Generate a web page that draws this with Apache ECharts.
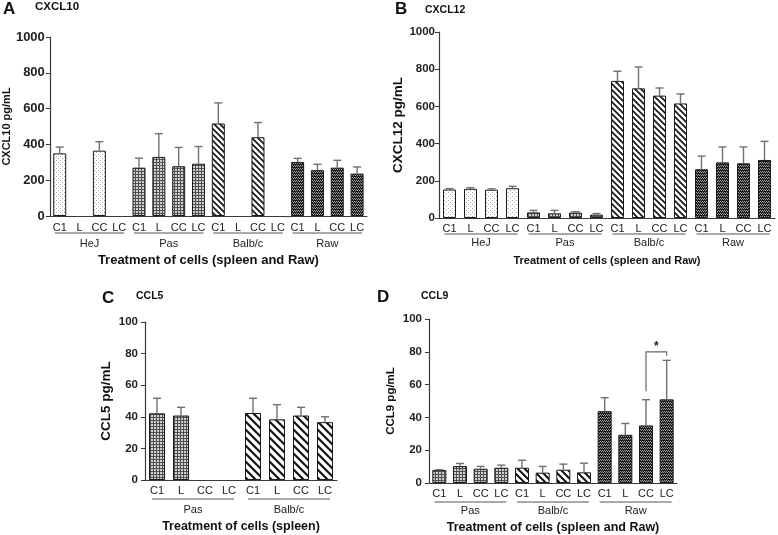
<!DOCTYPE html>
<html><head><meta charset="utf-8">
<script src="https://cdn.jsdelivr.net/npm/echarts@6/dist/echarts.min.js"></script>
<style>html,body{margin:0;padding:0;background:#fff}#c{width:778px;height:535px}</style>
</head><body><div id="c"></div>
<script>
// ---------------- data ----------------
const subLabels = ['C1', 'L', 'CC', 'LC'];

const groupsA = ['HeJ', 'Pas', 'Balb/c', 'Raw'];
const valuesA = [350, null, 365, null, 270, 330, 278, 292, 517, null, 440, null, 302, 256, 270, 237];
const upperA  = [385, null, 415, null, 323, 460, 383, 388, 632, null, 522, null, 322, 289, 311, 274];

const groupsB = ['HeJ', 'Pas', 'Balb/c', 'Raw'];
const valuesB = [153, 157, 152, 160, 30, 25, 29, 18, 737, 697, 658, 616, 262, 299, 294, 312];
const upperB  = [158, 163, 157, 170, 41, 41, 34, 24, 789, 812, 699, 667, 333, 382, 382, 412];

const groupsC = ['Pas', 'Balb/c'];
const valuesC = [42.2, 40.8, null, null, 42.4, 38.4, 40.8, 36.6];
const upperC  = [51.7, 46, null, null, 51.7, 47.7, 46, 40];

const groupsD = ['Pas', 'Balb/c', 'Raw'];
const valuesD = [7.9, 10.3, 8.7, 9.3, 9.3, 6.3, 8.1, 6.5, 43.8, 29.4, 35.1, 51];
const upperD  = [8.1, 11.9, 10.1, 10.9, 13.9, 10.1, 11.5, 12.1, 52, 36.3, 50.8, 74.8];
// significance bracket: [fromCategory, toCategory, bracketLevel, leftFoot, rightFoot]
const sigD = [[10, 11, 80, 56, 77.6]];
const sigLabelD = ['*'];

// ---------------- patterns ----------------
function mk(w, h, draw) {
  const c = document.createElement('canvas'); c.width = w; c.height = h;
  const ctx = c.getContext('2d'); draw(ctx); return c;
}
const patDots = mk(4, 4, ctx => {
  ctx.fillStyle = '#fff'; ctx.fillRect(0, 0, 4, 4);
  ctx.fillStyle = '#a8a8a8'; ctx.fillRect(0, 0, 1, 1); ctx.fillRect(2, 2, 1, 1);
});
const patChecker = mk(3, 3, ctx => {
  ctx.fillStyle = '#d0d0d0'; ctx.fillRect(0, 0, 3, 3);
  ctx.fillStyle = '#505050'; ctx.fillRect(0, 0, 3, 1); ctx.fillRect(0, 0, 1, 3);
});
const patBrick = mk(4, 3, ctx => {
  ctx.fillStyle = '#1e1e1e'; ctx.fillRect(0, 0, 4, 3);
  ctx.fillStyle = '#9a9a9a';
  ctx.fillRect(0, 0, 1, 1); ctx.fillRect(2, 0, 1, 1);
  ctx.fillRect(1, 1, 1, 1); ctx.fillRect(3, 1, 1, 1);
});
function stripes(s, lw) {
  return mk(s, s, ctx => {
    ctx.fillStyle = '#fff'; ctx.fillRect(0, 0, s, s);
    ctx.strokeStyle = '#111'; ctx.lineWidth = lw;
    ctx.beginPath();
    ctx.moveTo(-1, -1); ctx.lineTo(s + 1, s + 1);
    ctx.moveTo(-s - 1, -1); ctx.lineTo(1, s + 1);
    ctx.moveTo(s - 1, -1); ctx.lineTo(2 * s + 1, s + 1);
    ctx.stroke();
  });
}
function patternFor(group, stripeCanvas) {
  if (group === 'HeJ') return { image: patDots, repeat: 'repeat' };
  if (group === 'Pas') return { image: patChecker, repeat: 'repeat' };
  if (group === 'Balb/c') return { image: stripeCanvas, repeat: 'repeat' };
  return { image: patBrick, repeat: 'repeat' };
}

// ---------------- panels ----------------
const FONT = 'Liberation Sans, Arial, Helvetica, sans-serif';
const panels = [
  { groups: groupsA, values: valuesA, upper: upperA, max: 1000, interval: 200,
    grid: { left: 49, top: 37, width: 318, height: 179 }, barWidth: 13, cap: 4,
    stripe: stripes(6, 1.6), yName: 'CXCL10 pg/mL', yNameSize: 11, yNameGap: 37, yLabelSize: 13, yMargin: 5,
    xName: 'Treatment of cells (spleen and Raw)', xNameSize: 13, xNameGap: 38, catMargin: 6,
    lineOff: 17, textOff: 28 },
  { groups: groupsB, values: valuesB, upper: upperB, max: 1000, interval: 200,
    grid: { left: 439, top: 32, width: 336, height: 186 }, barWidth: 13, cap: 4,
    stripe: stripes(6, 1.6), yName: 'CXCL12 pg/mL', yNameSize: 13.5, yNameGap: 33, yLabelSize: 11.5, yMargin: 4,
    xName: 'Treatment of cells (spleen and Raw)', xNameSize: 11, xNameGap: 37, catMargin: 5,
    lineOff: 16, textOff: 25 },
  { groups: groupsC, values: valuesC, upper: upperC, max: 100, interval: 20,
    grid: { left: 145, top: 322, width: 192, height: 158 }, barWidth: 16, cap: 4,
    stripe: stripes(8, 2.2), yName: 'CCL5 pg/mL', yNameSize: 13.5, yNameGap: 32, yLabelSize: 11.5, yMargin: 7,
    xName: 'Treatment of cells (spleen)', xNameSize: 12.5, xNameGap: 40, catMargin: 5,
    lineOff: 19, textOff: 30 },
  { groups: groupsD, values: valuesD, upper: upperD, max: 100, interval: 20,
    grid: { left: 429, top: 319, width: 248, height: 165 }, barWidth: 14, cap: 4,
    stripe: stripes(7, 2), yName: 'CCL9 pg/mL', yNameSize: 11.5, yNameGap: 32, yLabelSize: 11.5, yMargin: 7,
    xName: 'Treatment of cells (spleen and Raw)', xNameSize: 12.5, xNameGap: 38, catMargin: 5,
    lineOff: 19, textOff: 28 }
];

const grids = [], xAxes = [], yAxes = [], series = [];
panels.forEach((p, k) => {
  grids.push(p.grid);
  const cats = p.groups.flatMap(() => subLabels);
  xAxes.push({
    type: 'category', gridIndex: k, data: cats,
    axisLine: { lineStyle: { color: '#3a3a3a', width: 1.2 } },
    axisTick: { alignWithLabel: true, length: 4, lineStyle: { color: '#3a3a3a' } },
    axisLabel: { interval: 0, fontSize: 11, color: '#222', fontFamily: FONT, margin: p.catMargin },
    name: p.xName, nameLocation: 'middle', nameGap: p.xNameGap,
    nameTextStyle: { fontSize: p.xNameSize, fontWeight: 'bold', color: '#111', fontFamily: FONT }
  });
  yAxes.push({
    type: 'value', gridIndex: k, min: 0, max: p.max, interval: p.interval,
    splitLine: { show: false },
    axisLine: { show: true, lineStyle: { color: '#3a3a3a', width: 1.2 } },
    axisTick: { show: true, length: 4, lineStyle: { color: '#3a3a3a' } },
    axisLabel: { fontSize: p.yLabelSize, fontWeight: 'bold', color: '#222', fontFamily: FONT,
      margin: p.yMargin, formatter: v => String(v) },
    name: p.yName, nameLocation: 'middle', nameRotate: 90, nameGap: p.yNameGap,
    nameTextStyle: { fontSize: p.yNameSize, fontWeight: 'bold', color: '#111', fontFamily: FONT }
  });
  series.push({
    type: 'bar', xAxisIndex: k, yAxisIndex: k, barWidth: p.barWidth,
    itemStyle: { borderColor: '#1a1a1a', borderWidth: 1 },
    data: p.values.map((v, i) => v == null ? '-' : {
      value: v, itemStyle: { color: patternFor(p.groups[Math.floor(i / 4)], p.stripe) }
    }),
    silent: true, z: 2
  });
  const errData = [];
  p.values.forEach((v, i) => { if (v != null && p.upper[i] != null) errData.push([i, v, p.upper[i]]); });
  series.push({
    type: 'custom', xAxisIndex: k, yAxisIndex: k, silent: true, z: 3,
    data: errData,
    renderItem: (params, api) => {
      const i = api.value(0);
      const p0 = api.coord([i, api.value(1)]);
      const p1 = api.coord([i, api.value(2)]);
      const st = { stroke: '#707070', lineWidth: 1.4 };
      return { type: 'group', children: [
        { type: 'line', shape: { x1: p0[0], y1: p0[1], x2: p1[0], y2: p1[1] }, style: st },
        { type: 'line', shape: { x1: p1[0] - p.cap, y1: p1[1], x2: p1[0] + p.cap, y2: p1[1] }, style: st }
      ]};
    }
  });
  series.push({
    type: 'custom', xAxisIndex: k, yAxisIndex: k, silent: true, z: 3, clip: false,
    data: p.groups.map((g, gi) => [gi * 4, gi * 4 + 3]),
    encode: { x: [0, 1] },
    renderItem: (params, api) => {
      const a = api.coord([api.value(0), 0]);
      const b = api.coord([api.value(1), 0]);
      const name = p.groups[params.dataIndex];
      return { type: 'group', children: [
        { type: 'line', shape: { x1: a[0] - 5, y1: a[1] + p.lineOff, x2: b[0] + 5, y2: a[1] + p.lineOff },
          style: { stroke: '#555', lineWidth: 1 } },
        { type: 'text', style: { text: name, x: (a[0] + b[0]) / 2, y: a[1] + p.textOff,
          align: 'center', verticalAlign: 'middle', fontSize: 11, fontFamily: FONT, fill: '#222' } }
      ]};
    }
  });
});

// significance bracket on panel D
series.push({
  type: 'custom', xAxisIndex: 3, yAxisIndex: 3, silent: true, z: 4, clip: false,
  data: sigD,
  renderItem: (params, api) => {
    const top1 = api.coord([api.value(0), api.value(2)]);
    const top2 = api.coord([api.value(1), api.value(2)]);
    const f1 = api.coord([api.value(0), api.value(3)]);
    const f2 = api.coord([api.value(1), api.value(4)]);
    const st = { stroke: '#666', lineWidth: 1.2, fill: null };
    return { type: 'group', children: [
      { type: 'polyline', shape: { points: [[f1[0], f1[1]], [top1[0], top1[1]], [top2[0], top2[1]], [f2[0], f2[1]]] }, style: st },
      { type: 'text', style: { text: sigLabelD[params.dataIndex], x: (top1[0] + top2[0]) / 2, y: top1[1] - 5,
        align: 'center', verticalAlign: 'middle', fontSize: 12, fontWeight: 'bold', fontFamily: FONT, fill: '#222' } }
    ]};
  }
});

const letterStyle = { fontSize: 17, fontWeight: 'bold', fontFamily: FONT, fill: '#111', verticalAlign: 'middle' };
const headStyle = { fontSize: 11.5, fontWeight: 'bold', fontFamily: FONT, fill: '#111', verticalAlign: 'middle' };
const graphic = [
  { type: 'text', left: 3, top: 1, style: Object.assign({ text: 'A' }, letterStyle) },
  { type: 'text', left: 35, top: 1, style: Object.assign({ text: 'CXCL10' }, headStyle) },
  { type: 'text', left: 395, top: 1, style: Object.assign({ text: 'B' }, letterStyle) },
  { type: 'text', left: 425, top: 5, style: Object.assign({ text: 'CXCL12' }, headStyle, { fontSize: 10.5 }) },
  { type: 'text', left: 102, top: 290, style: Object.assign({ text: 'C' }, letterStyle) },
  { type: 'text', left: 136, top: 291, style: Object.assign({ text: 'CCL5' }, headStyle, { fontSize: 10.5 }) },
  { type: 'text', left: 377, top: 289, style: Object.assign({ text: 'D' }, letterStyle) },
  { type: 'text', left: 421, top: 291, style: Object.assign({ text: 'CCL9' }, headStyle, { fontSize: 10.5 }) }
];

const chart = echarts.init(document.getElementById('c'), null, { renderer: 'canvas' });
chart.setOption({
  animation: false,
  backgroundColor: '#fff',
  textStyle: { fontFamily: FONT },
  grid: grids, xAxis: xAxes, yAxis: yAxes, series: series, graphic: graphic
});
</script></body></html>
